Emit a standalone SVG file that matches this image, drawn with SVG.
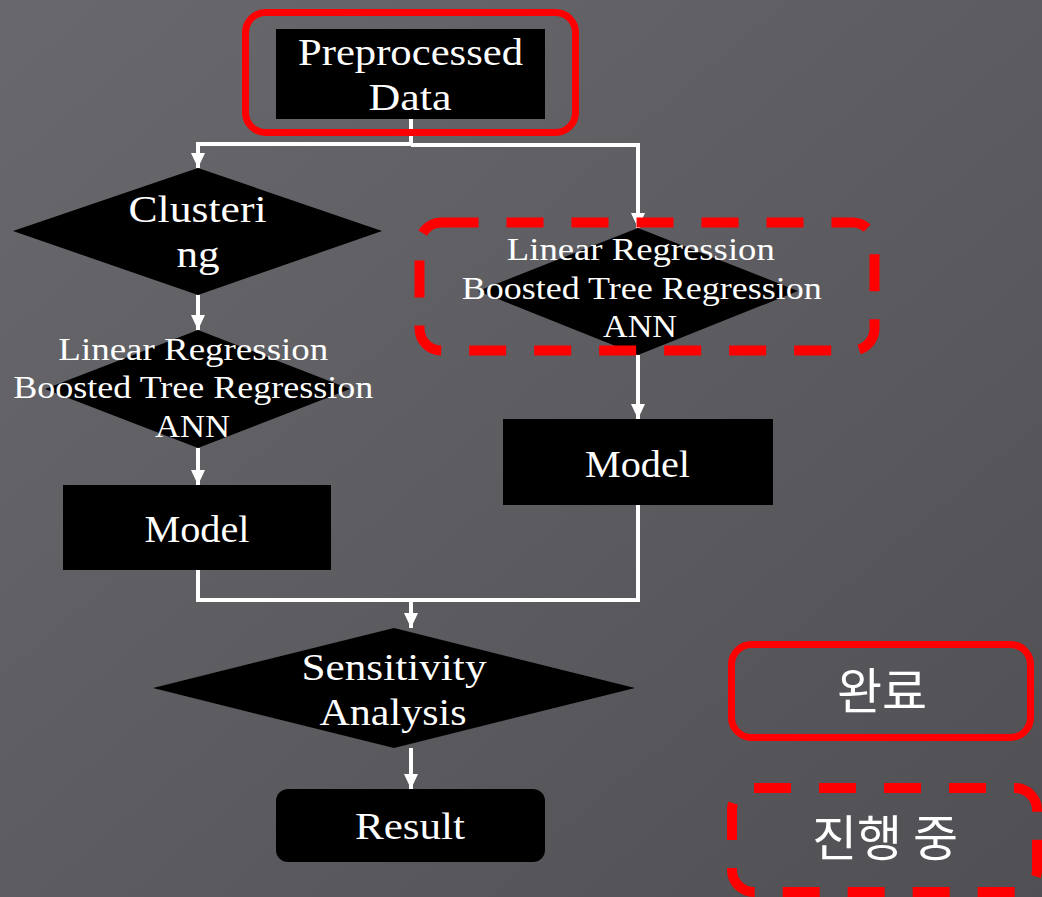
<svg xmlns="http://www.w3.org/2000/svg" width="1042" height="897" viewBox="0 0 1042 897">
  <defs>
    <linearGradient id="bg" x1="0" y1="0" x2="1" y2="1">
      <stop offset="0" stop-color="#68686d"/>
      <stop offset="0.5" stop-color="#5c5c61"/>
      <stop offset="1" stop-color="#4f4f54"/>
    </linearGradient>
    <marker id="arrow" markerUnits="userSpaceOnUse" markerWidth="16" markerHeight="16" refX="15" refY="8" orient="auto">
      <path d="M0,1 L15,8 L0,15 Z" fill="#ffffff"/>
    </marker>
  </defs>
  <style>
    .box { fill: #000000; }
    .lbl { fill: #ffffff; text-anchor: middle; }
    .big { font-size: 38px; }
    .small { font-size: 31px; }
    .kr { font-size: 49px; fill: #ffffff; text-anchor: middle; }
    .done { fill: none; stroke: #ff0000; stroke-width: 7; }
    .doing { fill: none; stroke: #ff0000; stroke-width: 10; stroke-dasharray: 37 28; }
    .wire { fill: none; stroke: #ffffff; stroke-width: 4; }
  </style>

  <rect x="0" y="0" width="1042" height="897" fill="url(#bg)"/>

  <!-- connectors -->
  <g id="connectors">
    <polyline class="wire" points="411,119 411,144 198,144 198,168" marker-end="url(#arrow)"/>
    <polyline class="wire" points="411,145 638,145 638,228" marker-end="url(#arrow)"/>
    <line class="wire" x1="198" y1="295" x2="198" y2="330" marker-end="url(#arrow)"/>
    <line class="wire" x1="198" y1="448" x2="198" y2="485" marker-end="url(#arrow)"/>
    <line class="wire" x1="638" y1="355" x2="638" y2="419" marker-end="url(#arrow)"/>
    <polyline class="wire" points="198,570 198,600 638,600 638,505"/>
    <line class="wire" x1="411" y1="600" x2="411" y2="628" marker-end="url(#arrow)"/>
    <line class="wire" x1="411" y1="748" x2="411" y2="789" marker-end="url(#arrow)"/>
  </g>

  <g font-family="'Liberation Serif', 'DejaVu Serif', 'Times New Roman', serif" lengthAdjust="spacingAndGlyphs">
    <!-- Preprocessed Data -->
    <g id="node-data">
      <rect class="box" x="276" y="29" width="269" height="90"/>
      <text class="lbl big" x="410.5" y="65" textLength="225" lengthAdjust="spacingAndGlyphs">Preprocessed</text>
      <text class="lbl big" x="410" y="110" textLength="83" lengthAdjust="spacingAndGlyphs">Data</text>
    </g>

    <!-- Clustering -->
    <g id="node-clustering">
      <polygon class="box" points="198,168 382,231 198,295 13,231"/>
      <text class="lbl big" x="197.5" y="222" textLength="138" lengthAdjust="spacingAndGlyphs">Clusteri</text>
      <text class="lbl big" x="198" y="267" textLength="43" lengthAdjust="spacingAndGlyphs">ng</text>
    </g>

    <!-- regression models, clustered branch -->
    <g id="node-regression-left">
      <polygon class="box" points="198,330 350,389 198,448 45,389"/>
      <text class="lbl small" x="193.3" y="360" textLength="270" lengthAdjust="spacingAndGlyphs">Linear Regression</text>
      <text class="lbl small" x="193.3" y="398" textLength="360" lengthAdjust="spacingAndGlyphs">Boosted Tree Regression</text>
      <text class="lbl small" x="192.5" y="437" textLength="75" lengthAdjust="spacingAndGlyphs">ANN</text>
    </g>

    <!-- regression models, direct branch -->
    <g id="node-regression-right">
      <polygon class="box" points="638,228 798,291 638,355 478,291"/>
      <text class="lbl small" x="640.8" y="260" textLength="268" lengthAdjust="spacingAndGlyphs">Linear Regression</text>
      <text class="lbl small" x="641.7" y="299" textLength="360" lengthAdjust="spacingAndGlyphs">Boosted Tree Regression</text>
      <text class="lbl small" x="640" y="337" textLength="74" lengthAdjust="spacingAndGlyphs">ANN</text>
    </g>

    <!-- Model, left -->
    <g id="node-model-left">
      <rect class="box" x="63" y="485" width="268" height="85"/>
      <text class="lbl big" x="197" y="542" textLength="105" lengthAdjust="spacingAndGlyphs">Model</text>
    </g>

    <!-- Model, right -->
    <g id="node-model-right">
      <rect class="box" x="503" y="419" width="270" height="86"/>
      <text class="lbl big" x="637.5" y="477" textLength="105" lengthAdjust="spacingAndGlyphs">Model</text>
    </g>

    <!-- Sensitivity Analysis -->
    <g id="node-sensitivity">
      <polygon class="box" points="394,628 635,688 394,748 153,688"/>
      <text class="lbl big" x="394" y="680" textLength="185" lengthAdjust="spacingAndGlyphs">Sensitivity</text>
      <text class="lbl big" x="393" y="725" textLength="147" lengthAdjust="spacingAndGlyphs">Analysis</text>
    </g>

    <!-- Result -->
    <g id="node-result">
      <rect class="box" x="276" y="789" width="269" height="73" rx="12"/>
      <text class="lbl big" x="410" y="839" textLength="110" lengthAdjust="spacingAndGlyphs">Result</text>
    </g>
  </g>

  <!-- status frames -->
  <g id="status-done">
    <rect class="done" x="245.5" y="12.5" width="330" height="120" rx="20"/>
  </g>
  <g id="status-in-progress">
    <rect class="doing" x="419.5" y="222.5" width="455" height="128" rx="22"/>
  </g>

  <!-- legend -->
  <g font-family="'Noto Sans CJK KR', 'Noto Sans', sans-serif">
    <g id="legend-done">
      <rect class="done" x="731.5" y="644.5" width="299" height="93" rx="20"/>
      <text class="kr" x="882" y="709">완료</text>
    </g>
    <g id="legend-in-progress">
      <rect class="doing" x="732" y="788" width="305" height="104" rx="22"/>
      <text class="kr" x="885" y="856">진행 중</text>
    </g>
  </g>
</svg>
